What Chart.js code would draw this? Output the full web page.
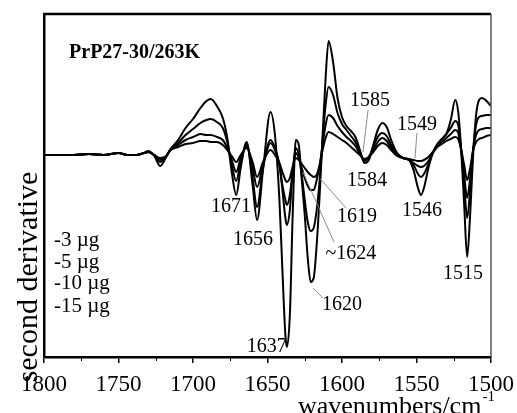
<!DOCTYPE html>
<html>
<head>
<meta charset="utf-8">
<script src="https://cdn.jsdelivr.net/npm/chart.js@4.4.1/dist/chart.umd.min.js"></script>
<style>
  html, body { margin: 0; padding: 0; background: #fff; }
  #wrap { width: 517px; height: 413px; }
</style>
</head>
<body>
<div id="wrap"><canvas id="c" width="517" height="413"></canvas></div>
<script>
// Second-derivative amide I / II spectra of PrP27-30 at 263 K for four sample loads.
const wavenumbers = [
  1800, 1790, 1780, 1770, 1760, 1750, 1744, 1738, 1733, 1730,
  1726, 1722, 1718, 1715, 1710, 1705, 1700, 1695, 1691, 1688,
  1684, 1680, 1677, 1674, 1671, 1668, 1664, 1660, 1657, 1653,
  1648, 1645, 1642, 1640, 1638, 1637, 1635, 1633, 1631, 1629,
  1627, 1625, 1623, 1621, 1619, 1617, 1615, 1613, 1611, 1609,
  1606, 1603, 1600, 1597, 1594, 1591, 1588, 1585, 1582, 1579,
  1576, 1573, 1570, 1567, 1563, 1559, 1555, 1552, 1549, 1547,
  1545, 1542, 1539, 1536, 1533, 1530, 1527, 1524, 1522, 1520,
  1518, 1516, 1514, 1512, 1510, 1508, 1506, 1503, 1500
];

const load15 = [
  0, 0, 0, 1, 0, 2, 0, 0, 2, 4,
  -1, -11, -2, 6, 15, 27, 36, 47, 54, 56,
  49, 37, 17, -17, -40, -13, 13, -30, -65, -15,
  43, 20, -45, -115, -180, -192, -160, -55, 15, 10,
  -25, -60, -103, -127, -123, -90, -40, 20, 77, 114,
  93, 57, 38, 29, 24, 18, 5, -8, -5, 10,
  25, 32, 28, 15, 2, -3, -5, -15, -33, -40,
  -33, -13, 2, 10, 16, 21, 35, 55, 43, 5,
  -50, -102, -60, 0, 40, 55, 57, 54, 49
];

const load10 = [
  0, 0, 0, 1, 0, 2, 0, 0, 2, 3,
  0, -7, -1, 6, 12, 20, 26, 32, 35, 36,
  33, 27, 13, -10, -26, -7, 11, -23, -52, -13,
  15, 7, -10, -35, -63, -70, -55, -15, 7, 0,
  -20, -45, -67, -76, -73, -55, -25, 15, 50, 68,
  60, 42, 31, 25, 19, 13, 3, -6, -2, 8,
  18, 22, 19, 10, 1, -3, -5, -10, -19, -22,
  -19, -9, 3, 11, 16, 21, 27, 34, 30, 5,
  -30, -63, -35, 5, 30, 38, 39, 40, 40
];

const load5 = [
  0, 0, 0, 1, 0, 2, 0, 0, 2, 3,
  0, -5, -1, 5, 10, 15, 18, 21, 20, 20,
  18, 15, 7, -5, -17, -3, 9, -13, -32, -10,
  12, 5, -10, -30, -45, -50, -40, -15, 2, -3,
  -13, -23, -31, -35, -35, -25, -10, 10, 30, 40,
  37, 29, 23, 18, 14, 9, 1, -5, -2, 5,
  13, 17, 14, 7, 0, -3, -5, -8, -11, -12,
  -11, -6, 2, 9, 13, 17, 21, 25, 22, 5,
  -20, -43, -23, 5, 20, 25, 26, 27, 27
];

const load3 = [
  0, 0, 0, 1, 0, 2, 0, 0, 2, 3,
  0, -3, -1, 5, 8, 11, 12, 14, 14, 13,
  13, 10, 5, -1, -7, 0, 7, -7, -22, -7,
  5, 0, -8, -17, -25, -27, -23, -11, -3, -5,
  -9, -13, -17, -20, -22, -20, -10, 5, 17, 23,
  21, 18, 15, 12, 8, 4, 0, -4, -2, 3,
  9, 12, 10, 5, -1, -3, -4, -5, -6, -6,
  -5, -2, 3, 8, 11, 14, 16, 18, 16, 5,
  -10, -25, -13, 5, 13, 16, 17, 19, 20
];

const majorTicks = [1800, 1750, 1700, 1650, 1600, 1550, 1500];
const minorTicks = [1775, 1725, 1675, 1625, 1575, 1525];
const loadNames = ['-3 \u00b5g', '-5 \u00b5g', '-10 \u00b5g', '-15 \u00b5g'];
const sampleTitle = 'PrP27-30/263K';

// Band assignments: label text anchored at (wavenumber, value)
const bandNotes = [
  ['1671', 1674.5, -52],
  ['1656', 1659.7, -85],
  ['1637', 1650.5, -192],
  ['1620', 1600, -150],
  ['~1624', 1594, -99],
  ['1619', 1590, -62],
  ['1584', 1583.2, -26],
  ['1585', 1581.2, 54],
  ['1549', 1549.7, 30],
  ['1546', 1546.3, -56],
  ['1515', 1518.8, -119]
];
// Leader lines from label to band: [w1, v1, w2, v2]
const leaderLines = [
  [1582.5, 45, 1585.9, 3],
  [1549.7, 22, 1551, -3],
  [1614.5, -24, 1597.3, -53],
  [1626.2, -17, 1605.4, -87],
  [1619.5, -133, 1612.8, -143]
];

const SERIF = "'Liberation Serif', 'Times New Roman', serif";
Chart.defaults.font.family = SERIF;
Chart.defaults.color = '#000';

function series(values) {
  return {
    data: wavenumbers.map((w, i) => ({ x: w, y: values[i] })),
    borderColor: '#000',
    borderWidth: 2,
    pointRadius: 0,
    fill: false,
    cubicInterpolationMode: 'monotone'
  };
}

const notesPlugin = {
  id: 'notes',
  afterDatasetsDraw(chart) {
    const { ctx, chartArea: a, scales: { x, y } } = chart;
    ctx.save();

    // frame: heavy top edge, lighter right edge
    ctx.strokeStyle = '#000';
    ctx.lineWidth = 2.5;
    ctx.beginPath();
    ctx.moveTo(a.left - 1, a.top);
    ctx.lineTo(a.right, a.top);
    ctx.stroke();
    ctx.strokeStyle = '#555';
    ctx.lineWidth = 1.5;
    ctx.beginPath();
    ctx.moveTo(a.right, a.top);
    ctx.lineTo(a.right, a.bottom);
    ctx.stroke();

    // minor ticks on the wavenumber axis
    ctx.strokeStyle = '#000';
    ctx.lineWidth = 1;
    minorTicks.forEach(w => {
      const px = Math.round(x.getPixelForValue(w)) + 0.5;
      ctx.beginPath();
      ctx.moveTo(px, a.bottom);
      ctx.lineTo(px, a.bottom + 4);
      ctx.stroke();
    });

    // leader lines
    ctx.strokeStyle = '#8c8c8c';
    ctx.lineWidth = 1;
    leaderLines.forEach(([w1, v1, w2, v2]) => {
      ctx.beginPath();
      ctx.moveTo(x.getPixelForValue(w1), y.getPixelForValue(v1));
      ctx.lineTo(x.getPixelForValue(w2), y.getPixelForValue(v2));
      ctx.stroke();
    });

    // band labels
    ctx.fillStyle = '#000';
    ctx.font = '20px ' + SERIF;
    ctx.textAlign = 'center';
    ctx.textBaseline = 'middle';
    bandNotes.forEach(([t, w, v]) => {
      ctx.fillText(t, x.getPixelForValue(w), y.getPixelForValue(v));
    });

    // sample title
    ctx.font = 'bold 20px ' + SERIF;
    ctx.textAlign = 'left';
    ctx.fillText(sampleTitle, x.getPixelForValue(1783.2), y.getPixelForValue(102));

    // sample loads
    ctx.font = '21px ' + SERIF;
    const loadRows = [-85, -107, -128, -151];
    loadNames.forEach((t, i) => {
      ctx.fillText(t, x.getPixelForValue(1793.3), y.getPixelForValue(loadRows[i]));
    });

    // axis titles
    ctx.font = '26px ' + SERIF;
    ctx.textBaseline = 'alphabetic';
    ctx.textAlign = 'left';
    const xt = 'wavenumbers/cm';
    const tx = 298, ty = 414;
    ctx.fillText(xt, tx, ty);
    const tw = ctx.measureText(xt).width;
    ctx.font = '15px ' + SERIF;
    ctx.fillText('-1', tx + tw + 1, ty - 13);

    ctx.save();
    ctx.font = '30px ' + SERIF;
    ctx.translate(37, 277);
    ctx.rotate(-Math.PI / 2);
    ctx.textAlign = 'center';
    ctx.fillText('second derivative', 0, 0);
    ctx.restore();

    ctx.restore();
  }
};

new Chart(document.getElementById('c'), {
  type: 'line',
  data: {
    datasets: [series(load3), series(load5), series(load10), series(load15)]
  },
  options: {
    responsive: false,
    animation: false,
    devicePixelRatio: 1,
    layout: { padding: { top: 14, right: 26, left: 0, bottom: 0 } },
    plugins: { legend: { display: false }, tooltip: { enabled: false } },
    scales: {
      x: {
        type: 'linear',
        reverse: true,
        min: 1500,
        max: 1800,
        afterBuildTicks: s => { s.ticks = majorTicks.map(v => ({ value: v })); },
        ticks: {
          font: { size: 23 }, color: '#000', padding: 8, maxRotation: 0, autoSkip: false,
          callback: v => String(v)
        },
        grid: { drawOnChartArea: false, drawTicks: true, tickLength: 6, color: '#000', lineWidth: 1.5 },
        border: { display: true, color: '#000', width: 2.5 },
        afterFit: s => { s.height = 56; s.paddingLeft = 0; s.paddingRight = 0; }
      },
      y: {
        type: 'linear',
        min: -202,
        max: 141,
        ticks: { display: false },
        grid: { display: false },
        border: { display: true, color: '#000', width: 2.5 },
        afterFit: s => { s.width = 44; }
      }
    }
  },
  plugins: [notesPlugin]
});
</script>
</body>
</html>
